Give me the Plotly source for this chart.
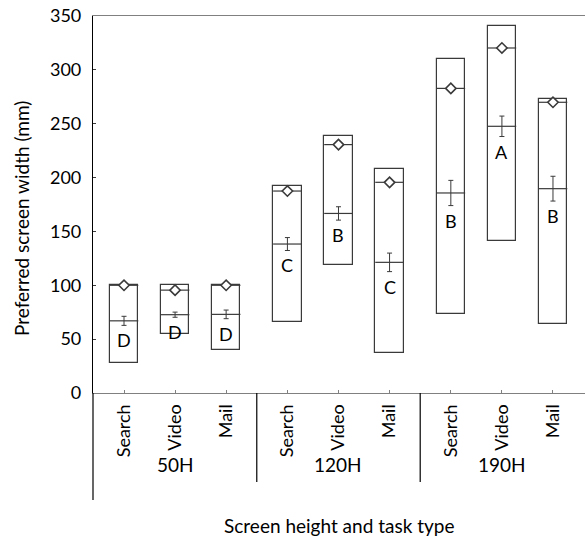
import plotly.graph_objects as go

# ---- data ----
groups = ["50H", "120H", "190H"]
tasks = ["Search", "Video", "Mail"]
box_min = [28, 55, 40, 66, 119, 37, 73, 141, 64]
box_max = [100, 100, 100, 192.5, 238.6, 208.3, 310.4, 340.7, 273.3]
means = [67, 72.7, 73, 138.3, 166.7, 121.3, 185.7, 247.6, 189.7]
errors = [4.2, 2.4, 4.0, 6.0, 6.2, 8.6, 11.7, 9.5, 11.5]
diamond_vals = [100, 95.5, 100, 187.5, 230.6, 195.6, 282.8, 320.3, 269.9]
letters = ["D", "D", "D", "C", "B", "C", "B", "A", "B"]
y_ticks = [0, 50, 100, 150, 200, 250, 300, 350]

FONT = "Lato"
FS = 19
DARK = "#3a3a3a"
GRAY = "#808080"

# category positions (groups separated by a slightly larger gap)
gap = 0.2
xpos = []
for gi in range(len(groups)):
    for ti in range(len(tasks)):
        xpos.append(gi * (len(tasks) + gap) + ti)
half_w = 0.28
xmin, xmax = -0.607, 9.027

fig = go.Figure()

# boxes (min-max range)
fig.add_trace(go.Bar(
    x=xpos, y=[hi - lo for hi, lo in zip(box_max, box_min)], base=box_min,
    width=2 * half_w, marker=dict(color="white", line=dict(color=DARK, width=1.2)),
    hoverinfo="skip", showlegend=False))

# horizontal lines: mean and diamond level
lx, ly = [], []
for x, m, d in zip(xpos, means, diamond_vals):
    lx += [x - half_w, x + half_w, None, x - half_w, x + half_w, None]
    ly += [m, m, None, d, d, None]
fig.add_trace(go.Scatter(x=lx, y=ly, mode="lines", line=dict(color=DARK, width=1.2),
                         hoverinfo="skip", showlegend=False))

# error bars around the mean
fig.add_trace(go.Scatter(
    x=xpos, y=means, mode="markers", marker=dict(size=1, color="rgba(0,0,0,0)"),
    error_y=dict(type="data", array=errors, visible=True, color=DARK, thickness=1, width=2.5),
    hoverinfo="skip", showlegend=False))

# diamonds
fig.add_trace(go.Scatter(
    x=xpos, y=diamond_vals, mode="markers",
    marker=dict(symbol="diamond", size=8, color="white", line=dict(color=DARK, width=1.6)),
    hoverinfo="skip", showlegend=False))

# letters
for x, m, e, t in zip(xpos, means, errors, letters):
    fig.add_annotation(x=x, y=m - e, text=t, showarrow=False, yanchor="top",
                       yshift=-2, font=dict(family=FONT, size=18, color="black"))

def xp(v):
    return (v - xmin) / (xmax - xmin)

# lower table lines
plot_h = 536 - 16 - 143
fig.add_shape(type="line", xref="paper", yref="paper", x0=0, x1=0, y0=0,
              y1=-(500 - 393) / plot_h, line=dict(color="black", width=1.2))
for gi in range(1, len(groups)):
    sx = (xpos[gi * 3 - 1] + xpos[gi * 3]) / 2
    fig.add_shape(type="line", xref="paper", yref="paper", x0=xp(sx), x1=xp(sx), y0=0,
                  y1=-(482 - 393) / plot_h, line=dict(color="black", width=1.2))

# group labels
for gi, g in enumerate(groups):
    fig.add_annotation(x=xp(xpos[gi * 3 + 1]), y=-(464 - 393) / plot_h, xref="paper", yref="paper",
                       text=g, showarrow=False, xanchor="center", yanchor="middle",
                       font=dict(family=FONT, size=FS, color="black"))

# axis titles
fig.add_annotation(x=0.5, y=-(525 - 393) / plot_h, xref="paper", yref="paper",
                   text="Screen height and task type", showarrow=False,
                   xanchor="center", yanchor="middle", font=dict(family=FONT, size=FS, color="black"))
fig.add_annotation(x=-(93 - 21) / (585 - 93), y=(393 - 219) / plot_h, xref="paper", yref="paper",
                   text="Preferred screen width (mm)", showarrow=False, textangle=-90,
                   xanchor="center", yanchor="middle", font=dict(family=FONT, size=FS, color="black"))

fig.update_layout(
    width=585, height=536,
    margin=dict(l=93, r=0, t=16, b=143),
    plot_bgcolor="white", paper_bgcolor="white",
    font=dict(family=FONT, size=FS, color="black"),
    bargap=0,
    xaxis=dict(range=[xmin, xmax], tickvals=xpos, ticktext=tasks * len(groups),
               tickangle=-90, ticks="inside", ticklen=3, tickcolor=GRAY,
               showline=True, linecolor=GRAY, linewidth=1.3, mirror=True,
               showgrid=False, zeroline=False, ticklabelstandoff=3,
               tickfont=dict(family=FONT, size=18, color="black")),
    yaxis=dict(range=[0, 350], tickvals=y_ticks, ticks="inside", ticklen=3, tickcolor=DARK,
               showline=True, linecolor="black", linewidth=1.2,
               showgrid=False, zeroline=False, ticklabelstandoff=7,
               tickfont=dict(family=FONT, size=18, color="black")),
)

fig.write_html("out.html")
